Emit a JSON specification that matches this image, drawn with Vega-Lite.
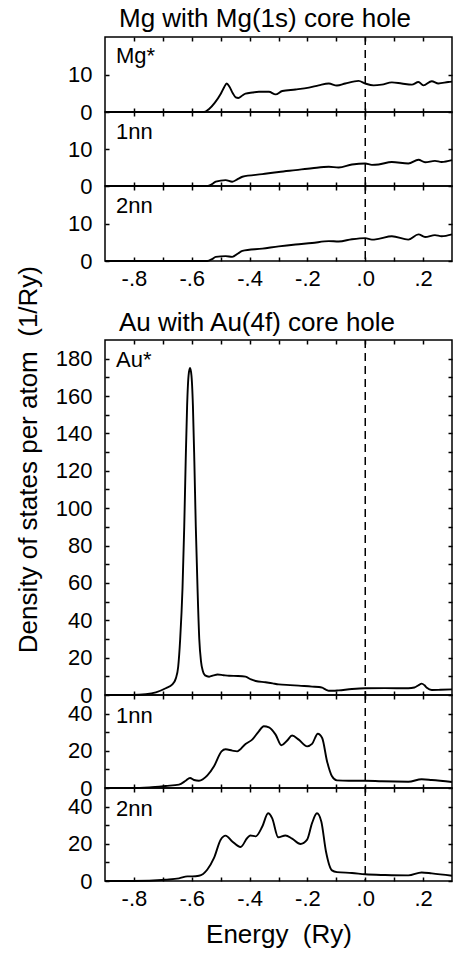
{
  "$schema": "https://vega.github.io/schema/vega-lite/v6.json",
  "background": "white",
  "padding": {"left": 15, "top": 5, "right": 0, "bottom": 0},
  "title": {"text": "Density of states per atom\u00a0 (1/Ry)", "orient": "left", "anchor": "middle", "fontSize": 26, "offset": 13, "dx": 17},
  "config": {
    "font": "Liberation Sans",
    "view": {"stroke": "black", "strokeWidth": 1.5},
    "axis": {"grid": false, "domain": false, "ticks": true, "tickColor": "black", "tickWidth": 1.5, "labelFont": "Liberation Sans", "labelFontSize": 22, "labelColor": "black", "labelFlush": false, "labelOverlap": false, "titleFont": "Liberation Sans", "titleFontSize": 26, "titleFontWeight": "normal", "titleColor": "black"},
    "title": {"font": "Liberation Sans", "fontSize": 26, "fontWeight": "normal", "color": "black"}
  },
  "datasets": {
    "mgStar": [{"e":-0.9,"dos":0},{"e":-0.557,"dos":0},{"e":-0.54,"dos":0.8},{"e":-0.52,"dos":2.5},{"e":-0.5,"dos":4.8},{"e":-0.488,"dos":6.6},{"e":-0.479,"dos":7.6},{"e":-0.47,"dos":6.8},{"e":-0.458,"dos":5.0},{"e":-0.448,"dos":3.9},{"e":-0.439,"dos":3.75},{"e":-0.425,"dos":4.4},{"e":-0.414,"dos":4.9},{"e":-0.39,"dos":5.2},{"e":-0.368,"dos":5.4},{"e":-0.333,"dos":5.4},{"e":-0.31,"dos":4.7},{"e":-0.287,"dos":5.6},{"e":-0.241,"dos":6.0},{"e":-0.195,"dos":6.5},{"e":-0.161,"dos":7.1},{"e":-0.126,"dos":7.6},{"e":-0.098,"dos":7.05},{"e":-0.069,"dos":7.6},{"e":-0.023,"dos":8.3},{"e":0,"dos":7.6},{"e":0.029,"dos":7.1},{"e":0.057,"dos":7.3},{"e":0.092,"dos":7.9},{"e":0.126,"dos":7.6},{"e":0.161,"dos":7.3},{"e":0.184,"dos":8.0},{"e":0.201,"dos":7.1},{"e":0.23,"dos":8.2},{"e":0.253,"dos":7.6},{"e":0.287,"dos":8.0},{"e":0.3,"dos":8.1}],
    "mg1": [{"e":-0.9,"dos":0},{"e":-0.546,"dos":0},{"e":-0.53,"dos":0.5},{"e":-0.517,"dos":1.16},{"e":-0.483,"dos":1.6},{"e":-0.46,"dos":1.16},{"e":-0.44,"dos":1.9},{"e":-0.425,"dos":2.5},{"e":-0.356,"dos":3.2},{"e":-0.299,"dos":3.8},{"e":-0.241,"dos":4.3},{"e":-0.184,"dos":4.8},{"e":-0.126,"dos":5.2},{"e":-0.092,"dos":5.0},{"e":-0.046,"dos":5.8},{"e":0,"dos":6.1},{"e":0.023,"dos":5.7},{"e":0.046,"dos":5.8},{"e":0.092,"dos":6.5},{"e":0.149,"dos":6.1},{"e":0.184,"dos":7.1},{"e":0.207,"dos":6.4},{"e":0.241,"dos":6.8},{"e":0.264,"dos":6.5},{"e":0.3,"dos":7.0}],
    "mg2": [{"e":-0.9,"dos":0},{"e":-0.546,"dos":0},{"e":-0.53,"dos":0.5},{"e":-0.517,"dos":1.1},{"e":-0.483,"dos":1.3},{"e":-0.46,"dos":1.1},{"e":-0.44,"dos":2.0},{"e":-0.425,"dos":2.7},{"e":-0.356,"dos":3.3},{"e":-0.299,"dos":3.9},{"e":-0.241,"dos":4.4},{"e":-0.184,"dos":4.8},{"e":-0.126,"dos":5.3},{"e":-0.092,"dos":5.2},{"e":-0.046,"dos":5.8},{"e":0,"dos":6.1},{"e":0.023,"dos":5.7},{"e":0.046,"dos":5.9},{"e":0.092,"dos":6.6},{"e":0.149,"dos":5.7},{"e":0.184,"dos":7.1},{"e":0.207,"dos":6.4},{"e":0.241,"dos":6.9},{"e":0.264,"dos":6.6},{"e":0.3,"dos":7.1}],
    "auStar": [{"e":-0.9,"dos":0},{"e":-0.805,"dos":0},{"e":-0.759,"dos":0.4},{"e":-0.724,"dos":1.4},{"e":-0.69,"dos":3.6},{"e":-0.667,"dos":5.7},{"e":-0.655,"dos":8.9},{"e":-0.647,"dos":15},{"e":-0.64,"dos":30},{"e":-0.632,"dos":57},{"e":-0.626,"dos":90},{"e":-0.621,"dos":125},{"e":-0.616,"dos":155},{"e":-0.611,"dos":171},{"e":-0.606,"dos":175},{"e":-0.601,"dos":171},{"e":-0.596,"dos":155},{"e":-0.591,"dos":125},{"e":-0.586,"dos":90},{"e":-0.58,"dos":57},{"e":-0.574,"dos":30},{"e":-0.568,"dos":18},{"e":-0.562,"dos":13},{"e":-0.554,"dos":10.5},{"e":-0.54,"dos":9.8},{"e":-0.525,"dos":10.5},{"e":-0.511,"dos":11},{"e":-0.49,"dos":10.6},{"e":-0.471,"dos":10.3},{"e":-0.44,"dos":10.2},{"e":-0.414,"dos":9.8},{"e":-0.395,"dos":8.3},{"e":-0.379,"dos":7.5},{"e":-0.345,"dos":6.8},{"e":-0.32,"dos":6.2},{"e":-0.299,"dos":5.7},{"e":-0.26,"dos":5.3},{"e":-0.23,"dos":5.0},{"e":-0.184,"dos":4.5},{"e":-0.16,"dos":4.3},{"e":-0.149,"dos":3.9},{"e":-0.135,"dos":2.8},{"e":-0.126,"dos":2.3},{"e":-0.11,"dos":2.3},{"e":-0.092,"dos":2.5},{"e":-0.046,"dos":3.2},{"e":0,"dos":3.6},{"e":0.069,"dos":3.7},{"e":0.149,"dos":3.6},{"e":0.17,"dos":4.0},{"e":0.185,"dos":5.3},{"e":0.195,"dos":6.1},{"e":0.205,"dos":5.2},{"e":0.213,"dos":3.9},{"e":0.23,"dos":2.7},{"e":0.26,"dos":2.8},{"e":0.3,"dos":3.0}],
    "au1": [{"e":-0.9,"dos":0},{"e":-0.805,"dos":0},{"e":-0.747,"dos":0.36},{"e":-0.69,"dos":1.1},{"e":-0.644,"dos":1.8},{"e":-0.621,"dos":3.9},{"e":-0.606,"dos":5.4},{"e":-0.592,"dos":4.3},{"e":-0.575,"dos":3.9},{"e":-0.546,"dos":6.8},{"e":-0.523,"dos":11.7},{"e":-0.497,"dos":19.7},{"e":-0.483,"dos":20.8},{"e":-0.46,"dos":20.1},{"e":-0.443,"dos":19.7},{"e":-0.414,"dos":23.7},{"e":-0.391,"dos":26},{"e":-0.368,"dos":30.5},{"e":-0.351,"dos":33.2},{"e":-0.333,"dos":32.6},{"e":-0.31,"dos":28.7},{"e":-0.29,"dos":23},{"e":-0.27,"dos":25.5},{"e":-0.253,"dos":28.2},{"e":-0.23,"dos":26},{"e":-0.201,"dos":22.4},{"e":-0.184,"dos":23.7},{"e":-0.164,"dos":29.2},{"e":-0.149,"dos":26.9},{"e":-0.132,"dos":14.3},{"e":-0.115,"dos":6.3},{"e":-0.098,"dos":4.1},{"e":-0.057,"dos":3.9},{"e":0,"dos":3.9},{"e":0.057,"dos":3.6},{"e":0.149,"dos":3.4},{"e":0.195,"dos":4.7},{"e":0.23,"dos":4.3},{"e":0.3,"dos":3.2}],
    "au2": [{"e":-0.9,"dos":0},{"e":-0.805,"dos":0},{"e":-0.69,"dos":0.7},{"e":-0.644,"dos":1.4},{"e":-0.615,"dos":2.5},{"e":-0.598,"dos":2.5},{"e":-0.575,"dos":2.8},{"e":-0.546,"dos":6.2},{"e":-0.523,"dos":12.4},{"e":-0.5,"dos":22.2},{"e":-0.483,"dos":24.4},{"e":-0.46,"dos":21.3},{"e":-0.431,"dos":18.3},{"e":-0.408,"dos":23.1},{"e":-0.397,"dos":24.5},{"e":-0.379,"dos":24},{"e":-0.356,"dos":29.3},{"e":-0.336,"dos":36.4},{"e":-0.322,"dos":33.8},{"e":-0.301,"dos":23.5},{"e":-0.276,"dos":24.5},{"e":-0.253,"dos":22.8},{"e":-0.224,"dos":19.9},{"e":-0.201,"dos":22.2},{"e":-0.184,"dos":31.1},{"e":-0.167,"dos":36.4},{"e":-0.152,"dos":32},{"e":-0.136,"dos":16},{"e":-0.115,"dos":5.7},{"e":-0.098,"dos":4.8},{"e":-0.046,"dos":4.3},{"e":0,"dos":3.6},{"e":0.069,"dos":3.2},{"e":0.149,"dos":3.0},{"e":0.195,"dos":4.6},{"e":0.23,"dos":4.1},{"e":0.3,"dos":2.8}]
  },
  "spacing": 19,
  "vconcat": [
    {
      "title": {"text": "Mg with Mg(1s) core hole", "anchor": "start", "frame": "group", "dx": 14, "offset": -17, "baseline": "alphabetic"},
      "spacing": 0,
      "bounds": "flush",
      "vconcat": [
        {
          "width": 347, "height": 75,
          "data": {"name": "mgStar"},
          "resolve": {"axis": {"x": "independent", "y": "independent"}},
          "layer": [
            {"mark": {"type": "line", "color": "black", "strokeWidth": 1.9, "interpolate": "monotone"},
             "encoding": {
               "x": {"field": "e", "type": "quantitative", "scale": {"domain": [-0.9, 0.3], "nice": false, "zero": false}, "axis": {"orient": "bottom", "values": [-0.8,-0.7,-0.6,-0.5,-0.4,-0.3,-0.2,-0.1,0,0.1,0.2], "labels": false, "title": null, "tickSize": -4}},
               "y": {"field": "dos", "type": "quantitative", "scale": {"domain": [0, 20], "nice": false}, "axis": {"orient": "left", "values": [0, 10], "title": null, "tickSize": -4, "labelPadding": 17}}}},
            {"data": {"values": [{}]},
             "mark": {"type": "rule", "color": "black", "strokeWidth": 1.5, "strokeDash": [8, 5]},
             "encoding": {"x": {"datum": 0, "type": "quantitative", "axis": {"orient": "top", "values": [-0.8,-0.7,-0.6,-0.5,-0.4,-0.3,-0.2,-0.1,0,0.1,0.2], "labels": false, "title": null, "tickSize": -4}}}},
            {"data": {"values": [{}]},
             "mark": {"type": "text", "align": "left", "baseline": "alphabetic", "fontSize": 22, "color": "black"},
             "encoding": {"x": {"datum": -0.862, "type": "quantitative", "axis": null}, "y": {"datum": 13, "type": "quantitative", "axis": {"orient": "right", "values": [0, 10], "labels": false, "title": null, "tickSize": -4}}, "text": {"value": "Mg*"}}}
          ]
        },
        {
          "width": 347, "height": 74,
          "data": {"name": "mg1"},
          "resolve": {"axis": {"x": "independent", "y": "independent"}},
          "layer": [
            {"mark": {"type": "line", "color": "black", "strokeWidth": 1.9, "interpolate": "monotone"},
             "encoding": {
               "x": {"field": "e", "type": "quantitative", "scale": {"domain": [-0.9, 0.3], "nice": false, "zero": false}, "axis": {"orient": "bottom", "values": [-0.8,-0.7,-0.6,-0.5,-0.4,-0.3,-0.2,-0.1,0,0.1,0.2], "labels": false, "title": null, "tickSize": -4}},
               "y": {"field": "dos", "type": "quantitative", "scale": {"domain": [0, 20], "nice": false}, "axis": {"orient": "left", "values": [0, 10], "title": null, "tickSize": -4, "labelPadding": 17}}}},
            {"data": {"values": [{}]},
             "mark": {"type": "rule", "color": "black", "strokeWidth": 1.5, "strokeDash": [8, 5]},
             "encoding": {"x": {"datum": 0, "type": "quantitative", "axis": {"orient": "top", "values": [-0.8,-0.7,-0.6,-0.5,-0.4,-0.3,-0.2,-0.1,0,0.1,0.2], "labels": false, "title": null, "tickSize": -4}}}},
            {"data": {"values": [{}]},
             "mark": {"type": "text", "align": "left", "baseline": "alphabetic", "fontSize": 22, "color": "black"},
             "encoding": {"x": {"datum": -0.862, "type": "quantitative", "axis": null}, "y": {"datum": 12.8, "type": "quantitative", "axis": {"orient": "right", "values": [0, 10], "labels": false, "title": null, "tickSize": -4}}, "text": {"value": "1nn"}}}
          ]
        },
        {
          "width": 347, "height": 75,
          "data": {"name": "mg2"},
          "resolve": {"axis": {"x": "independent", "y": "independent"}},
          "layer": [
            {"mark": {"type": "line", "color": "black", "strokeWidth": 1.9, "interpolate": "monotone"},
             "encoding": {
               "x": {"field": "e", "type": "quantitative", "scale": {"domain": [-0.9, 0.3], "nice": false, "zero": false}, "axis": {"orient": "bottom", "values": [-0.8,-0.7,-0.6,-0.5,-0.4,-0.3,-0.2,-0.1,0,0.1,0.2], "labels": true, "labelPadding": 11, "labelExpr": "abs(round(datum.value*10)) % 2 == 0 ? replace(replace(format(datum.value, '.1f'), '0.', '.'), '−', '-') : ''", "title": null, "tickSize": -4}},
               "y": {"field": "dos", "type": "quantitative", "scale": {"domain": [0, 20], "nice": false}, "axis": {"orient": "left", "values": [0, 10], "title": null, "tickSize": -4, "labelPadding": 17}}}},
            {"data": {"values": [{}]},
             "mark": {"type": "rule", "color": "black", "strokeWidth": 1.5, "strokeDash": [8, 5]},
             "encoding": {"x": {"datum": 0, "type": "quantitative", "axis": {"orient": "top", "values": [-0.8,-0.7,-0.6,-0.5,-0.4,-0.3,-0.2,-0.1,0,0.1,0.2], "labels": false, "title": null, "tickSize": -4}}}},
            {"data": {"values": [{}]},
             "mark": {"type": "text", "align": "left", "baseline": "alphabetic", "fontSize": 22, "color": "black"},
             "encoding": {"x": {"datum": -0.862, "type": "quantitative", "axis": null}, "y": {"datum": 12.8, "type": "quantitative", "axis": {"orient": "right", "values": [0, 10], "labels": false, "title": null, "tickSize": -4}}, "text": {"value": "2nn"}}}
          ]
        }
      ]
    },
    {
      "title": {"text": "Au with Au(4f) core hole", "anchor": "start", "frame": "group", "dx": 14, "offset": -18, "baseline": "alphabetic"},
      "spacing": 0,
      "bounds": "flush",
      "vconcat": [
        {
          "width": 347, "height": 355,
          "data": {"name": "auStar"},
          "resolve": {"axis": {"x": "independent", "y": "independent"}},
          "layer": [
            {"mark": {"type": "line", "color": "black", "strokeWidth": 1.9, "interpolate": "monotone"},
             "encoding": {
               "x": {"field": "e", "type": "quantitative", "scale": {"domain": [-0.9, 0.3], "nice": false, "zero": false}, "axis": {"orient": "bottom", "values": [-0.8,-0.7,-0.6,-0.5,-0.4,-0.3,-0.2,-0.1,0,0.1,0.2], "labels": false, "title": null, "tickSize": -4}},
               "y": {"field": "dos", "type": "quantitative", "scale": {"domain": [0, 190], "nice": false}, "axis": {"orient": "left", "values": [0,10,20,30,40,50,60,70,80,90,100,110,120,130,140,150,160,170,180], "labelExpr": "datum.value % 20 == 0 ? datum.label : ''", "title": null, "tickSize": -4, "labelPadding": 17}}}},
            {"data": {"values": [{}]},
             "mark": {"type": "rule", "color": "black", "strokeWidth": 1.5, "strokeDash": [8, 5]},
             "encoding": {"x": {"datum": 0, "type": "quantitative", "axis": {"orient": "top", "values": [-0.8,-0.7,-0.6,-0.5,-0.4,-0.3,-0.2,-0.1,0,0.1,0.2], "labels": false, "title": null, "tickSize": -4}}}},
            {"data": {"values": [{}]},
             "mark": {"type": "text", "align": "left", "baseline": "alphabetic", "fontSize": 22, "color": "black"},
             "encoding": {"x": {"datum": -0.862, "type": "quantitative", "axis": null}, "y": {"datum": 175.8, "type": "quantitative", "axis": {"orient": "right", "values": [0,10,20,30,40,50,60,70,80,90,100,110,120,130,140,150,160,170,180], "labels": false, "title": null, "tickSize": -4}}, "text": {"value": "Au*"}}}
          ]
        },
        {
          "width": 347, "height": 93,
          "data": {"name": "au1"},
          "resolve": {"axis": {"x": "independent", "y": "independent"}},
          "layer": [
            {"mark": {"type": "line", "color": "black", "strokeWidth": 1.9, "interpolate": "monotone"},
             "encoding": {
               "x": {"field": "e", "type": "quantitative", "scale": {"domain": [-0.9, 0.3], "nice": false, "zero": false}, "axis": {"orient": "bottom", "values": [-0.8,-0.7,-0.6,-0.5,-0.4,-0.3,-0.2,-0.1,0,0.1,0.2], "labels": false, "title": null, "tickSize": -4}},
               "y": {"field": "dos", "type": "quantitative", "scale": {"domain": [0, 50], "nice": false}, "axis": {"orient": "left", "values": [0,10,20,30,40], "labelExpr": "datum.value % 20 == 0 ? datum.label : ''", "title": null, "tickSize": -4, "labelPadding": 17}}}},
            {"data": {"values": [{}]},
             "mark": {"type": "rule", "color": "black", "strokeWidth": 1.5, "strokeDash": [8, 5]},
             "encoding": {"x": {"datum": 0, "type": "quantitative", "axis": {"orient": "top", "values": [-0.8,-0.7,-0.6,-0.5,-0.4,-0.3,-0.2,-0.1,0,0.1,0.2], "labels": false, "title": null, "tickSize": -4}}}},
            {"data": {"values": [{}]},
             "mark": {"type": "text", "align": "left", "baseline": "alphabetic", "fontSize": 22, "color": "black"},
             "encoding": {"x": {"datum": -0.862, "type": "quantitative", "axis": null}, "y": {"datum": 35.2, "type": "quantitative", "axis": {"orient": "right", "values": [0,10,20,30,40], "labels": false, "title": null, "tickSize": -4}}, "text": {"value": "1nn"}}}
          ]
        },
        {
          "width": 347, "height": 93,
          "data": {"name": "au2"},
          "resolve": {"axis": {"x": "independent", "y": "independent"}},
          "layer": [
            {"mark": {"type": "line", "color": "black", "strokeWidth": 1.9, "interpolate": "monotone"},
             "encoding": {
               "x": {"field": "e", "type": "quantitative", "scale": {"domain": [-0.9, 0.3], "nice": false, "zero": false}, "axis": {"orient": "bottom", "values": [-0.8,-0.7,-0.6,-0.5,-0.4,-0.3,-0.2,-0.1,0,0.1,0.2], "labels": true, "labelPadding": 11, "labelExpr": "abs(round(datum.value*10)) % 2 == 0 ? replace(replace(format(datum.value, '.1f'), '0.', '.'), '−', '-') : ''", "title": "Energy\u00a0 (Ry)", "titlePadding": 12, "tickSize": -4}},
               "y": {"field": "dos", "type": "quantitative", "scale": {"domain": [0, 50], "nice": false}, "axis": {"orient": "left", "values": [0,10,20,30,40], "labelExpr": "datum.value % 20 == 0 ? datum.label : ''", "title": null, "tickSize": -4, "labelPadding": 17}}}},
            {"data": {"values": [{}]},
             "mark": {"type": "rule", "color": "black", "strokeWidth": 1.5, "strokeDash": [8, 5]},
             "encoding": {"x": {"datum": 0, "type": "quantitative", "axis": {"orient": "top", "values": [-0.8,-0.7,-0.6,-0.5,-0.4,-0.3,-0.2,-0.1,0,0.1,0.2], "labels": false, "title": null, "tickSize": -4}}}},
            {"data": {"values": [{}]},
             "mark": {"type": "text", "align": "left", "baseline": "alphabetic", "fontSize": 22, "color": "black"},
             "encoding": {"x": {"datum": -0.862, "type": "quantitative", "axis": null}, "y": {"datum": 35.1, "type": "quantitative", "axis": {"orient": "right", "values": [0,10,20,30,40], "labels": false, "title": null, "tickSize": -4}}, "text": {"value": "2nn"}}}
          ]
        }
      ]
    }
  ]
}
